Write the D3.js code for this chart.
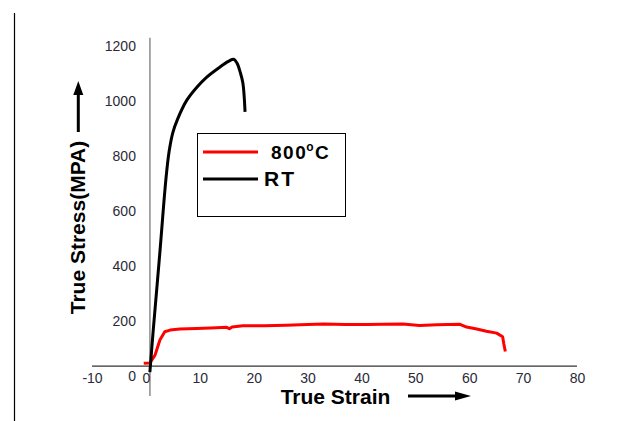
<!DOCTYPE html>
<html>
<head>
<meta charset="utf-8">
<script src="https://cdnjs.cloudflare.com/ajax/libs/d3/7.8.5/d3.min.js"></script>
<style>
  body { margin: 0; background: #fff; }
  svg { display: block; font-family: "Liberation Sans", Arial, sans-serif; }
</style>
</head>
<body>
<div id="chart"></div>
<script>
// tick values of both axes
var xTicks = [-10, 0, 10, 20, 30, 40, 50, 60, 70, 80];
var yTicks = [0, 200, 400, 600, 800, 1000, 1200];

// RT curve (strain %, stress MPa)
var rtStrain = [0.74, 1.4, 2.6, 3.7, 4.3, 5.0, 5.9, 7.6, 9.5, 11.3, 13.7, 15.4, 16.3, 16.9, 17.5, 18.0, 18.4];
var rtStress = [13, 174, 450, 712, 815, 885, 935, 1003, 1051, 1087, 1123, 1145, 1152, 1138, 1105, 1065, 960];

// 800°C curve
var hotStrain = [-0.4, 0.7, 1.7, 2.6, 3.5, 4.5, 6.3, 9.4, 12, 15, 15.5, 16, 18, 22, 26, 30, 33, 37, 41, 44, 47.7, 50.8, 54, 58.3, 59.5, 61.4, 63.2, 65.1, 66.2, 66.4, 66.7];
var hotStress = [45, 46, 75, 130, 160, 166, 170, 172, 174, 176, 171, 177, 182, 182, 184, 186, 188, 186, 186, 187, 188, 183, 185, 187, 177, 170, 162, 155, 142, 118, 88];

var seriesNames = ["800", "RT"];
var seriesColors = ["#ff0000", "#000000"];

var width = 625, height = 421;

var svg = d3.select("#chart").append("svg")
    .attr("width", width)
    .attr("height", height);

var x = d3.scaleLinear().domain([-10, 80]).range([92, 577]);
var y = d3.scaleLinear().domain([0, 1200]).range([375.7, 46]);

// tick labels use a plain hyphen and no thousands separator
var fmt = function (d) { return String(d); };

// left frame line
svg.append("line")
    .attr("x1", 14.5).attr("x2", 14.5)
    .attr("y1", 13).attr("y2", height)
    .attr("stroke", "#000").attr("stroke-width", 1.2);

// vertical axis line (grey), crosses a bit right of 0
var yAxisAt = x(0.75);
svg.append("line")
    .attr("x1", yAxisAt).attr("x2", yAxisAt)
    .attr("y1", y(1230)).attr("y2", y(-74))
    .attr("stroke", "#8c8c8c").attr("stroke-width", 1.5);

// horizontal axis line
var xAxisAt = y(35);
svg.append("line")
    .attr("x1", x(-10)).attr("x2", x(80))
    .attr("y1", xAxisAt).attr("y2", xAxisAt)
    .attr("stroke", "#333").attr("stroke-width", 1.2);

// y tick labels
var gy = svg.append("g")
    .attr("transform", "translate(" + yAxisAt + ",0)")
    .call(d3.axisLeft(y).tickValues(yTicks).tickFormat(fmt).tickSize(0).tickPadding(14));
gy.select(".domain").remove();
gy.selectAll("text")
    .attr("font-family", "Liberation Sans, Arial, sans-serif")
    .attr("font-size", 14)
    .attr("fill", "#2a2a38");

// x tick labels
var gx = svg.append("g")
    .attr("transform", "translate(0," + xAxisAt + ")")
    .call(d3.axisBottom(x).tickValues(xTicks).tickFormat(fmt).tickSize(0).tickPadding(7));
gx.select(".domain").remove();
gx.selectAll("text")
    .attr("font-family", "Liberation Sans, Arial, sans-serif")
    .attr("font-size", 14)
    .attr("fill", "#2a2a38");

// curves
var rtData = rtStrain.map(function (s, i) { return [s, rtStress[i]]; });
var hotData = hotStrain.map(function (s, i) { return [s, hotStress[i]]; });

var smooth = d3.line()
    .x(function (d) { return x(d[0]); })
    .y(function (d) { return y(d[1]); })
    .curve(d3.curveCatmullRom);

var rough = d3.line()
    .x(function (d) { return x(d[0]); })
    .y(function (d) { return y(d[1]); });

svg.append("path")
    .datum(hotData)
    .attr("d", rough)
    .attr("fill", "none")
    .attr("stroke", seriesColors[0])
    .attr("stroke-width", 3)
    .attr("stroke-linejoin", "round");

svg.append("path")
    .datum(rtData)
    .attr("d", smooth)
    .attr("fill", "none")
    .attr("stroke", seriesColors[1])
    .attr("stroke-width", 3)
    .attr("stroke-linejoin", "round");

// axis titles
svg.append("text")
    .attr("x", 335.5)
    .attr("y", 404)
    .attr("text-anchor", "middle")
    .attr("font-size", 21)
    .attr("font-weight", "bold")
    .text("True Strain");

svg.append("text")
    .attr("transform", "translate(85,227.5) rotate(-90)")
    .attr("text-anchor", "middle")
    .attr("font-size", 21)
    .attr("font-weight", "bold")
    .text("True Stress(MPA)");

// arrows next to the titles
svg.append("line")
    .attr("x1", 408).attr("x2", 457)
    .attr("y1", 396).attr("y2", 396)
    .attr("stroke", "#000").attr("stroke-width", 3);
svg.append("path")
    .attr("d", "M455,391.5 L471,396 L455,400.5 Z")
    .attr("fill", "#000");

svg.append("line")
    .attr("x1", 78.3).attr("x2", 78.3)
    .attr("y1", 132).attr("y2", 93)
    .attr("stroke", "#000").attr("stroke-width", 3);
svg.append("path")
    .attr("d", "M73.3,95 L78.3,81 L83.3,95 Z")
    .attr("fill", "#000");

// legend
var legend = svg.append("g");
legend.append("rect")
    .attr("x", 197.5).attr("y", 133.5)
    .attr("width", 148).attr("height", 83)
    .attr("fill", "#fff")
    .attr("stroke", "#000").attr("stroke-width", 1);

var rowY = [152, 179];
seriesNames.forEach(function (name, i) {
    legend.append("line")
        .attr("x1", 203).attr("x2", 258)
        .attr("y1", rowY[i]).attr("y2", rowY[i])
        .attr("stroke", seriesColors[i]).attr("stroke-width", 3);
});

var t1 = legend.append("text")
    .attr("x", 271)
    .attr("y", 158.5)
    .attr("font-size", 19)
    .attr("font-weight", "bold")
    .attr("letter-spacing", 1.5);
t1.append("tspan").text("800");
t1.append("tspan").attr("font-size", 12).attr("dy", -8).attr("dx", -1).text("o");
t1.append("tspan").attr("dy", 8).text("C");

legend.append("text")
    .attr("x", 264)
    .attr("y", 185.5)
    .attr("font-size", 21)
    .attr("font-weight", "bold")
    .attr("letter-spacing", 2)
    .text("RT");
</script>
</body>
</html>
